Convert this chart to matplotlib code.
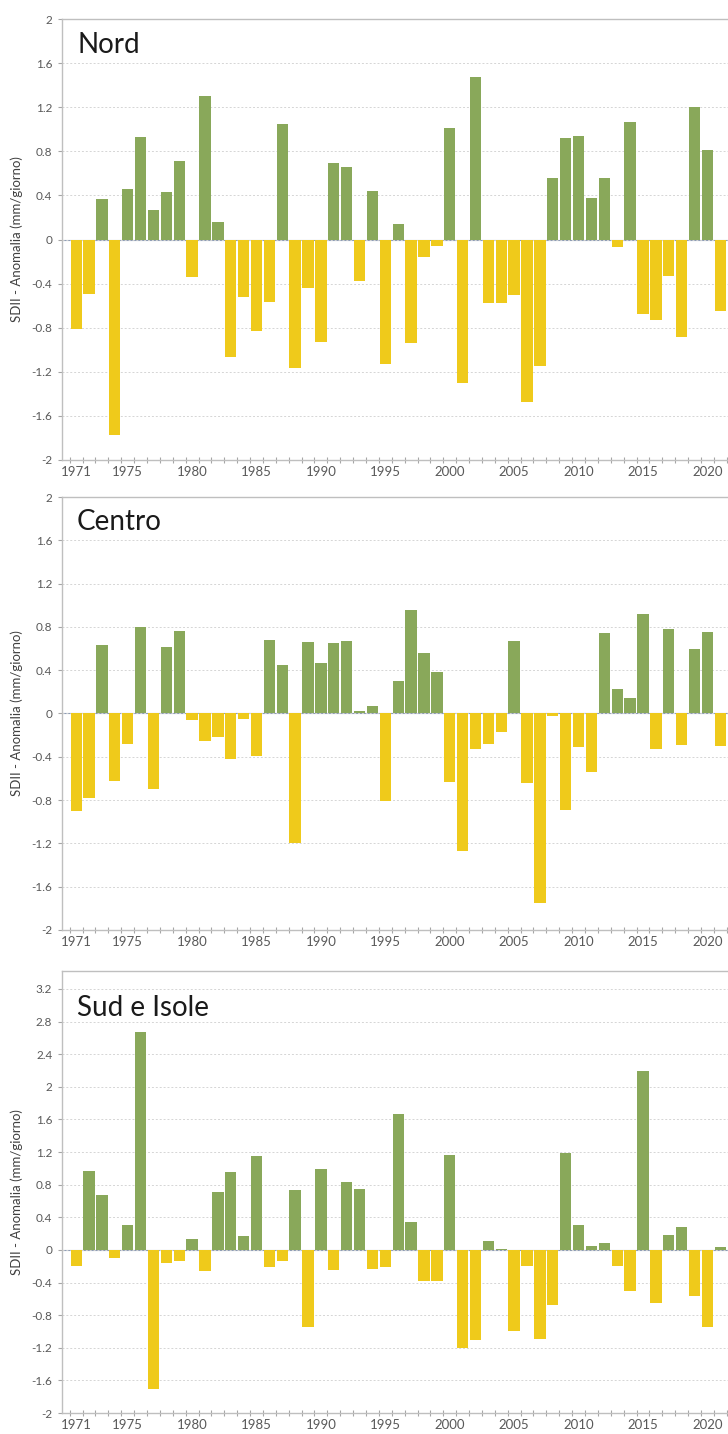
import matplotlib.pyplot as plt
import numpy as np

anni = list(range(1971, 2022))

nord = [-0.81, -0.49, 0.37, -1.77, 0.46, 0.93, 0.27, 0.43, 0.71, -0.34,
        1.30, 0.16, -1.07, -0.52, -0.83, -0.57, 1.05, -1.17, -0.44, -0.93,
        0.69, 0.66, -0.38, 0.44, -1.13, 0.14, -0.94, -0.16, -0.06, 1.01,
        -1.30, 1.47, -0.58, -0.58, -0.50, -1.47, -1.15, 0.56, 0.92, 0.94,
        0.38, 0.56, -0.07, 1.07, -0.68, -0.73, -0.33, -0.88, 1.20, 0.81,
        -0.65]

centro = [-0.90, -0.78, 0.63, -0.62, -0.28, 0.80, -0.70, 0.61, 0.76, -0.06,
          -0.25, -0.22, -0.42, -0.05, -0.39, 0.68, 0.45, -1.20, 0.66, 0.47,
          0.65, 0.67, 0.02, 0.07, -0.81, 0.30, 0.96, 0.56, 0.38, -0.63,
          -1.27, -0.33, -0.28, -0.17, 0.67, -0.64, -1.75, -0.02, -0.89, -0.31,
          -0.54, 0.74, 0.23, 0.14, 0.92, -0.33, 0.78, -0.29, 0.60, 0.75,
          -0.30]

sud = [-0.20, 0.97, 0.67, -0.10, 0.30, 2.67, -1.71, -0.16, -0.13, 0.13,
       -0.26, 0.71, 0.96, 0.17, 1.15, -0.21, -0.14, 0.73, -0.94, 0.99,
       -0.25, 0.83, 0.75, -0.24, -0.21, 1.67, 0.34, -0.38, -0.38, 1.16,
       -1.20, -1.10, 0.11, 0.01, -1.00, -0.20, -1.09, -0.67, 1.19, 0.31,
       0.05, 0.08, -0.20, -0.51, 2.19, -0.65, 0.18, 0.28, -0.57, -0.95,
       0.04]

nomi = ["Nord", "Centro", "Sud e Isole"]
serie = [nord, centro, sud]
ymax_pannelli = [2.0, 2.0, 3.42]

etichette_x = [1971, 1975, 1980, 1985, 1990, 1995, 2000, 2005, 2010, 2015, 2020]

verde = '#89a85a'
giallo = '#efca1b'
grigio = '#595959'

# posizioni in pixel (top, bottom) e baseline del titolo
W, H = 728, 1434
riquadri = [(19, 460), (497, 930), (971, 1413)]
baseline_titoli = [53, 530, 1016]

fig = plt.figure(figsize=(W / 100, H / 100), dpi=100)
plt.rcParams['font.family'] = ['Lato', 'DejaVu Sans']


def etichetta(v):
    v = round(v, 1) + 0.0
    return f"{v:g}"


for nome, valori, ymax, (top, bottom), base in zip(nomi, serie, ymax_pannelli, riquadri, baseline_titoli):
    ax = fig.add_axes([62 / W, 1 - bottom / H, (W - 62) / W, (bottom - top) / H])
    colori = [verde if v >= 0 else giallo for v in valori]
    ax.bar(anni, valori, width=0.88, color=colori, zorder=2)
    ax.axhline(0, color='#8d9cb5', lw=0.8, zorder=1)

    ax.set_xlim(1969.9, 2021.6)
    ax.set_ylim(-2, ymax)
    yt = np.arange(-2, ymax + 0.01, 0.4)
    ax.set_yticks(yt)
    ax.set_yticklabels([etichetta(v) for v in yt], fontsize=8.5, color=grigio)
    ax.yaxis.grid(True, color='#d5d5d5', lw=0.7, linestyle=(0, (2, 2)), zorder=0)

    ax.set_xticks(etichette_x)
    ax.set_xticklabels([str(a) for a in etichette_x], fontsize=9.5, color=grigio)
    ax.set_xticks(np.arange(1970.5, 2022, 1), minor=True)
    ax.tick_params(axis='x', which='major', length=0, pad=4)
    ax.tick_params(axis='x', which='minor', direction='inout', length=5, color='#a6a6a6', width=0.8)
    ax.tick_params(axis='y', length=3, color='#a6a6a6', pad=4)

    for s in ['left', 'bottom', 'top']:
        ax.spines[s].set_color('#bfbfbf')
        ax.spines[s].set_linewidth(1.0)
    ax.spines['right'].set_visible(False)

    ax.set_ylabel("SDII - Anomalia (mm/giorno)", fontsize=9.5, color='#404040', labelpad=6)
    fig.text(77 / W, 1 - base / H, nome, fontsize=20, color='#1a1a1a', va='baseline')

fig.savefig("out.png", dpi=100)
